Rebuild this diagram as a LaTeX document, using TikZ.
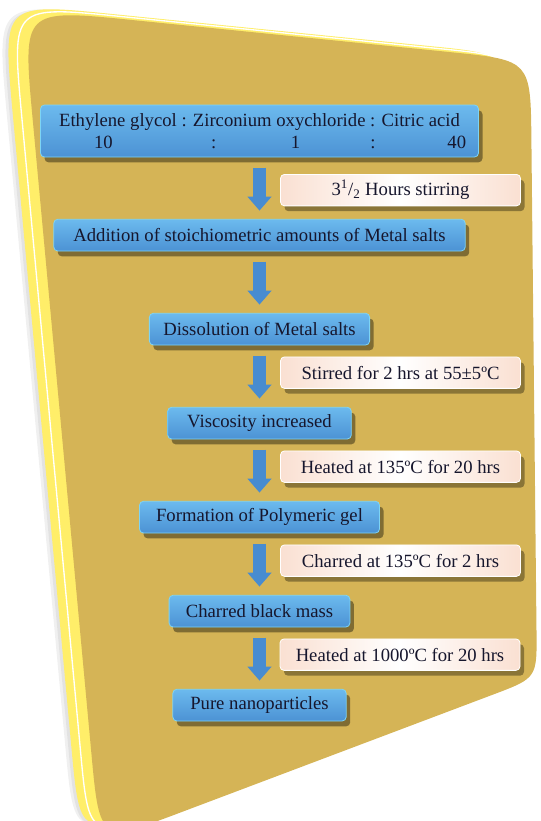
\documentclass[tikz,border=0pt]{standalone}
\usepackage{fontspec}
\setmainfont{Liberation Serif}
\usetikzlibrary{calc,arrows.meta,positioning,shadows}
\definecolor{cardgold}{RGB}{213,180,86}
\definecolor{rimyellow}{RGB}{255,238,105}
\definecolor{boxtop}{RGB}{108,186,238}
\definecolor{boxbot}{RGB}{76,146,212}
\definecolor{boxedge}{RGB}{125,212,245}
\definecolor{notepink}{RGB}{250,224,210}
\definecolor{arrowblue}{RGB}{72,140,208}
\definecolor{inkblue}{RGB}{22,22,45}
\tikzset{
  card outline/.style={insert path={(132,20) -- (451,52.2) .. controls (530.6,60.2) .. (531.4,140.2)
    -- (536.5,631) .. controls (537,678) .. (493,694.6) -- (183.9,811.2) .. controls (99.7,843) .. (91.4,753.4)
    -- (32.6,118.4) .. controls (22.5,8.9) .. (132,20) -- cycle}},
  stepbox/.style={rounded corners=3pt, top color=boxtop, bottom color=boxbot, draw=boxedge,
    line width=0.6pt, text=inkblue, align=center, minimum height=23.8pt, inner sep=2pt,
    drop shadow={shadow xshift=3pt, shadow yshift=-4pt, opacity=0.4, fill=black}},
  notebox/.style={rounded corners=3pt, left color=notepink, right color=notepink, middle color=white,
    draw=white, line width=0.6pt, text=inkblue, minimum width=180pt, minimum height=23.6pt, inner sep=2pt,
    drop shadow={shadow xshift=3pt, shadow yshift=-4pt, opacity=0.35, fill=black}},
  flowarr/.style={-{Triangle[length=10.5pt,width=17.5pt]}, line width=10pt, draw=arrowblue,
    shorten <=7.7pt, shorten >=6.2pt}
}

\begin{document}
\begin{tikzpicture}[x=0.75pt, y=-0.75pt, node distance=46.1pt, font=\fontsize{14}{17}\selectfont]
  \useasboundingbox (0,0) rectangle (540,821);

  % tilted card behind the chart
  \fill[black, opacity=0.06, shift={(-26,-6)}, card outline];
  \fill[black, opacity=0.06, shift={(-23,-5)}, card outline];
  \fill[rimyellow, shift={(-20,-6)}, card outline];
  \draw[white, line width=1pt, shift={(-11,-3.5)}, card outline];
  \fill[cardgold, card outline];

  % main steps
  \node[stepbox, minimum width=328.5pt, minimum height=39pt] (mix) at (259.5,131)
    {Ethylene glycol : Zirconium oxychloride : Citric acid\\
     \hbox to 310pt{\hskip31pt 10\hskip73.7pt:\hskip56pt1\hskip52.5pt:\hfil40}};
  \node[stepbox, below=of mix, minimum width=308.6pt] (salts) {Addition of stoichiometric amounts of Metal salts};
  \node[stepbox, below=of salts, minimum width=165.2pt] (dissolve) {Dissolution of Metal salts};
  \node[stepbox, below=of dissolve, minimum width=137.7pt] (visc) {Viscosity increased};
  \node[stepbox, below=of visc, minimum width=180pt] (gel) {Formation of Polymeric gel};
  \node[stepbox, below=of gel, minimum width=135.6pt] (mass) {Charred black mass};
  \node[stepbox, below=of mass, minimum width=130pt] (nano) {Pure nanoparticles};

  \draw[flowarr] (mix) -- (salts);
  \draw[flowarr] (salts) -- (dissolve);
  \draw[flowarr] (dissolve) -- (visc);
  \draw[flowarr] (visc) -- (gel);
  \draw[flowarr] (gel) -- (mass);
  \draw[flowarr] (mass) -- (nano);

  % conditions beside the arrows
  \node[notebox] (stir) at ($(mix.south)!.5!(salts.north)+(141,2)$) {3\textsuperscript{1}/\textsubscript{2} Hours stirring};
  \node[notebox] (stirhot) at ($(dissolve.south)!.5!(visc.north)+(141,-3.5)$) {Stirred for 2 hrs at 55±5ºC};
  \node[notebox] (heatlow) at ($(visc.south)!.5!(gel.north)+(141,-3.5)$) {Heated at 135ºC for 20 hrs};
  \node[notebox] (char) at ($(gel.south)!.5!(mass.north)+(141,-3.5)$) {Charred at 135ºC for 2 hrs};
  \node[notebox] (heathigh) at ($(mass.south)!.5!(nano.north)+(140.5,-3.5)$) {Heated at 1000ºC for 20 hrs};

\end{tikzpicture}
\end{document}
